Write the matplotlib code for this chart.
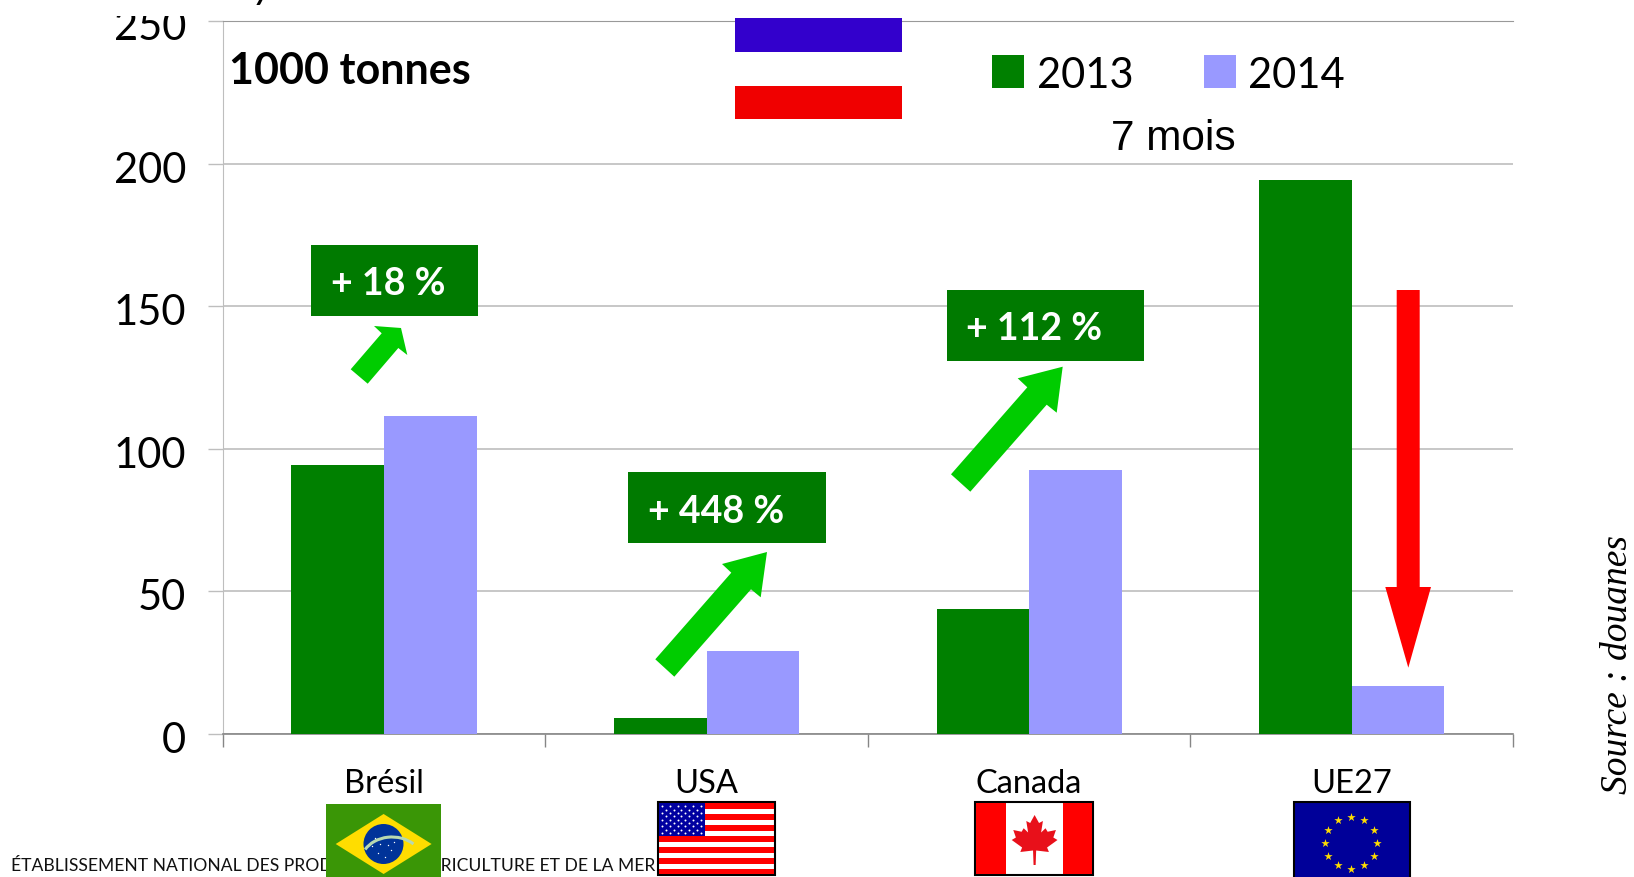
# -*- coding: utf-8 -*-
import numpy as np
import matplotlib.pyplot as plt
from matplotlib.patches import Rectangle, Polygon, Ellipse, Arc
from matplotlib.transforms import Bbox, ScaledTranslation

categories = ['Brésil', 'USA', 'Canada', 'UE27']
values_2013 = [94.5, 5.5, 44, 194.5]
values_2014 = [111.5, 29, 92.7, 16.8]
y_ticks = [0, 50, 100, 150, 200, 250]
x_bounds = [0, 1, 2, 3, 4]

W, H = 1634, 878
dark_green = '#008000'
lilac = '#9999FF'
bright_green = '#00CC00'
box_green = '#007A00'
grid_grey = '#BEBEBE'
base_grey = '#868686'

plt.rcParams['font.family'] = ['Lato', 'DejaVu Sans']

fig = plt.figure(figsize=(W/100, H/100), dpi=100)
ax = fig.add_axes([222.7/W, 1-735/H, (1513-222.7)/W, (735-22.3)/H])

# main bars
x = np.arange(len(categories)) + 0.5
bw = 0.287
ax.bar(x-bw/2, values_2013, bw, color=dark_green, zorder=3)
ax.bar(x+bw/2, values_2014, bw, color=lilac, zorder=3)

ax.set_xlim(0, 4)
ax.set_ylim(0, 250)
ax.set_yticks(y_ticks)
ax.set_xticks(x_bounds)
ax.set_xticklabels([])
ax.set_xticks(x, labels=categories, minor=True)
ax.yaxis.grid(True, color=grid_grey, lw=1.2, zorder=0)
ax.set_axisbelow(True)
ax.tick_params(axis='y', length=11, width=1, color=grid_grey, labelsize=30, pad=15.5)
ax.tick_params(axis='x', which='major', length=9, width=1, color=base_grey)
ax.tick_params(axis='x', which='minor', length=0, labelsize=23.5, pad=24.5)
for s in ['right']:
    ax.spines[s].set_visible(False)
ax.spines['top'].set_color('#999999')
ax.spines['left'].set_color(grid_grey)
ax.spines['bottom'].set_color(base_grey)
ax.spines['bottom'].set_linewidth(1.2)

# tick labels sit a little under their gridlines in the original
down = ScaledTranslation(0, -2.5/100, fig.dpi_scale_trans)
for lab in ax.get_yticklabels():
    lab.set_transform(lab.get_transform() + down)

# the 250 label is cut off at the top in the original
lab250 = ax.get_yticklabels()[-1]
lab250.set_clip_box(Bbox([[0, 0], [W, H-17]]))
lab250.set_clip_on(True)

# overlay in pixel coords for the annotations
ov = fig.add_axes([0, 0, 1, 1], facecolor='none')
ov.set_xlim(0, W)
ov.set_ylim(H-1, -1)
ov.axis('off')

ov.text(229, 83, '1000 tonnes', fontsize=31, fontweight='bold', va='baseline')
ov.text(254, -3, 'y', fontsize=30, fontstyle='italic', va='baseline', clip_on=False)

# french flag
ov.add_patch(Rectangle((735, 18), 167, 34, color='#3300CC', lw=0))
ov.add_patch(Rectangle((735, 86), 167, 33, color='#F00000', lw=0))

# legend
ov.add_patch(Rectangle((992, 55), 32, 33, color=dark_green, lw=0))
ov.add_patch(Rectangle((1204, 55), 32, 33, color=lilac, lw=0))
ov.text(1037, 87, '2013', fontsize=30, va='baseline')
ov.text(1248, 87, '2014', fontsize=30, va='baseline')
ov.text(1111, 149, '7 mois', fontsize=30.5, family='Liberation Sans', va='baseline')

# percent boxes
box_x = [311, 628, 947]
box_w = [167, 198, 197]
box_y = [245, 472, 290]
box_txt = ['+ 18 %', '+ 448 %', '+ 112 %']
txt_x = [331, 648, 966]
txt_y = [294.5, 522, 339.5]
for i in range(3):
    ov.add_patch(Rectangle((box_x[i], box_y[i]), box_w[i], 71, color=box_green, lw=0))
    ov.text(txt_x[i], txt_y[i], box_txt[i], color='white', fontsize=27, fontweight='bold', va='baseline')

# arrows
ov.add_patch(Polygon([(350.7, 369.3), (381.7, 333.3), (374, 326), (401, 328), (407.3, 355),
                      (398.3, 348), (367.7, 383.7)], color=bright_green, lw=0))
ov.add_patch(Polygon([(655.3, 659.3), (731.3, 572.7), (722, 564), (767, 552), (760.7, 597.3),
                      (751, 589.3), (674.3, 676.7)], color=bright_green, lw=0))
ov.add_patch(Polygon([(951, 474.3), (1027.3, 387.3), (1017.7, 378.3), (1062.7, 366.7), (1056.7, 412.7),
                      (1046.7, 404.7), (970.3, 491.7)], color=bright_green, lw=0))
ov.add_patch(Polygon([(1396.7, 290), (1419.7, 290), (1419.7, 587), (1431, 587), (1408.3, 667.7),
                      (1385.3, 587), (1396.7, 587)], color='#FF0000', lw=0))

# side and footer text
ov.text(1618, 793, 'Source : douanes', rotation=90, family='Liberation Serif', fontstyle='italic',
        fontsize=27, ha='center', va='bottom')
ov.text(11, 870, "ÉTABLISSEMENT NATIONAL DES PRODUITS DE L'AGRICULTURE ET DE LA MER",
        fontsize=12.6, color='#111111', va='baseline', zorder=1)

# Brazil
ov.add_patch(Rectangle((326, 804), 115, 75, color='#3A9606', lw=0, zorder=4))
ov.add_patch(Polygon([(335.7, 844), (383.6, 814), (431.6, 844), (383.6, 874)], color='#FFDD00', lw=0, zorder=5))
ov.add_patch(Ellipse((383.5, 844), 40, 40, color='#003399', lw=0, zorder=6))
ov.add_patch(Arc((392, 862), 62, 50, theta1=205, theta2=320, color='#B8D8B0', lw=2.2, zorder=7))
ov.scatter([372, 378, 385, 391, 380, 388, 375, 394], [846, 853, 857, 850, 844, 845, 838, 842],
           s=1, color='white', lw=0, zorder=7)

# USA
ov.add_patch(Rectangle((658, 802.5), 117, 73, fc='white', ec='black', lw=1.5, zorder=4))
sh = 71/13
for k in range(0, 13, 2):
    ov.add_patch(Rectangle((659, 803.5+k*sh), 115.5, sh, color='#FF0000', lw=0, zorder=5))
ov.add_patch(Rectangle((659, 803.5), 46.5, 32.5, color='#0000A0', lw=0, zorder=6))
for r in range(9):
    n = 6 if r % 2 == 0 else 5
    off = 0 if r % 2 == 0 else 3.8
    ov.scatter(662+off+np.arange(n)*7.8, np.full(n, 806.5+r*3.3), s=2, color='white', lw=0, zorder=7)

# Canada
ov.add_patch(Rectangle((975.5, 802.5), 117.5, 72.5, fc='white', ec='black', lw=1.5, zorder=4))
ov.add_patch(Rectangle((976.5, 803.5), 29.5, 70.5, color='#FF0000', lw=0, zorder=5))
ov.add_patch(Rectangle((1063.3, 803.5), 29, 70.5, color='#FF0000', lw=0, zorder=5))
half = [(0, 1), (.17, .68), (.32, .76), (.25, .30), (.42, .47), (.5, .33), (.82, .40), (.72, .1),
        (.88, 0), (.48, -.3), (.55, -.48), (.06, -.42), (.04, -1)]
pts = half + [(-a, b) for a, b in half[::-1]]
leaf = [(1034.6+a*26, 840-b*25) for a, b in pts]
ov.add_patch(Polygon(leaf, color='#E8101A', lw=0, zorder=6))

# EU
ov.add_patch(Rectangle((1293.6, 802.5), 116.4, 80, fc='#000099', ec='black', lw=1.5, zorder=4, clip_on=True))
ang = np.deg2rad(np.arange(0, 360, 30))
ov.scatter(1351+26*np.cos(ang), 842.7+26*np.sin(ang), marker='*', s=40, color='#FFDD00', lw=0, zorder=6)

fig.savefig('out.png', dpi=100)
